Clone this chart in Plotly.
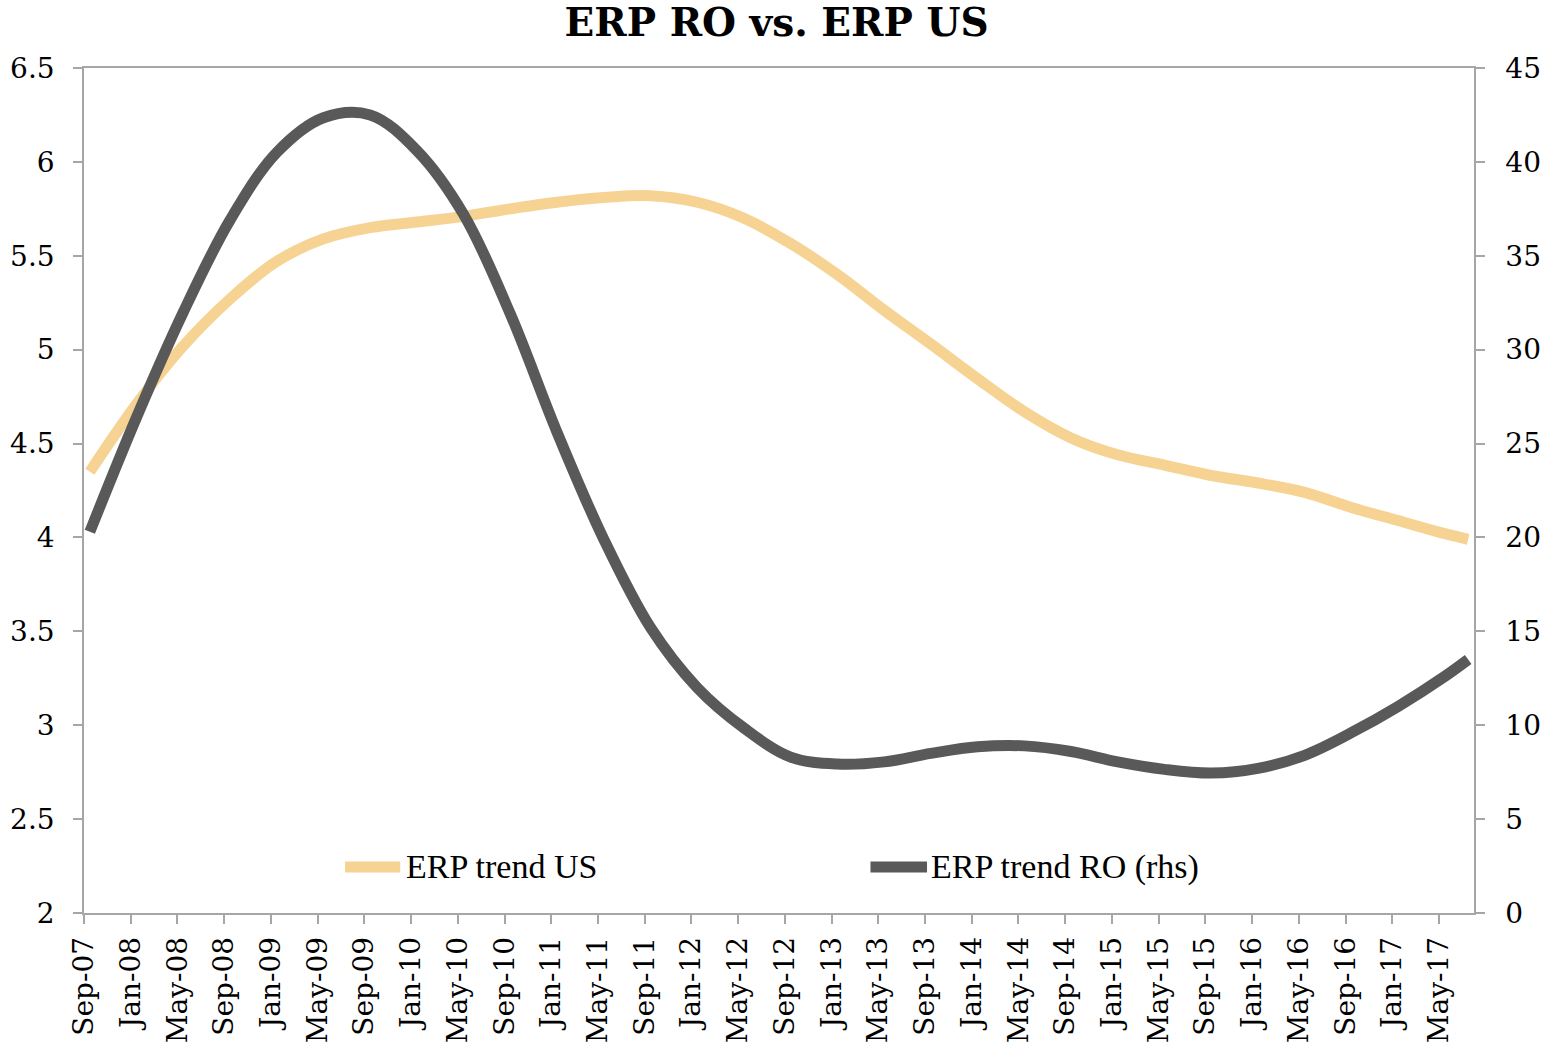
import plotly.graph_objects as go

# Month labels shown on the x axis (every fourth month, Sep-07 .. May-17)
tick_labels = [
    "Sep-07", "Jan-08", "May-08", "Sep-08", "Jan-09", "May-09", "Sep-09", "Jan-10",
    "May-10", "Sep-10", "Jan-11", "May-11", "Sep-11", "Jan-12", "May-12", "Sep-12",
    "Jan-13", "May-13", "Sep-13", "Jan-14", "May-14", "Sep-14", "Jan-15", "May-15",
    "Sep-15", "Jan-16", "May-16", "Sep-16", "Jan-17", "May-17",
]

# Observation months (months elapsed since Sep-07)
obs_month = [0, 4, 8, 12, 16, 20, 24, 28, 32, 36, 40, 44, 48, 52, 56, 60,
             64, 68, 72, 76, 80, 84, 88, 92, 96, 100, 104, 108, 112, 116, 118]

# Equity risk premium trend, US (left axis, %)
erp_us = [4.35, 4.71, 5.02, 5.27, 5.47, 5.59, 5.65, 5.68, 5.71, 5.75, 5.785,
          5.81, 5.82, 5.785, 5.70, 5.565, 5.40, 5.21, 5.03, 4.845, 4.67, 4.53,
          4.44, 4.385, 4.33, 4.29, 4.24, 4.16, 4.09, 4.02, 3.99]

# Equity risk premium trend, Romania (right axis, %)
erp_ro = [20.3, 26.4, 32.0, 36.9, 40.5, 42.35, 42.5, 40.6, 37.2, 31.9, 25.6,
          19.9, 15.2, 12.0, 9.85, 8.3, 7.93, 8.05, 8.5, 8.85, 8.9, 8.6,
          8.05, 7.65, 7.45, 7.7, 8.4, 9.6, 11.0, 12.6, 13.5]

series_names = ["ERP trend US", "ERP trend RO (rhs)"]
series_colors = ["#F6D392", "#595959"]

# each monthly value sits in the middle of its month slot
x_pos = [m + 0.5 for m in obs_month]
tick_pos = list(range(0, 4 * len(tick_labels), 4))

AXIS_GREY = "#A6A6A6"
TICK_FONT = dict(family="DejaVu Serif", size=28, color="#000000")

fig = go.Figure()
fig.add_trace(go.Scatter(
    x=x_pos, y=erp_us, name=series_names[0], mode="lines",
    line=dict(color=series_colors[0], width=11, shape="spline", smoothing=1.0),
    yaxis="y", showlegend=False,
))
fig.add_trace(go.Scatter(
    x=x_pos, y=erp_ro, name=series_names[1], mode="lines",
    line=dict(color=series_colors[1], width=11, shape="spline", smoothing=1.0),
    yaxis="y2", showlegend=False,
))

# legend drawn inside the plot area, along the bottom
legend_y = 0.0545
legend_items = [(0.1878, 0.2275, 0.2300), (0.5658, 0.6065, 0.6080)]
for (x0, x1, xt), name, color in zip(legend_items, series_names, series_colors):
    fig.add_shape(type="line", xref="paper", yref="paper",
                  x0=x0, x1=x1, y0=legend_y, y1=legend_y,
                  line=dict(color=color, width=11))
    fig.add_annotation(xref="paper", yref="paper", x=xt, y=legend_y,
                       text=name, showarrow=False, xanchor="left", yanchor="middle",
                       font=dict(family="Liberation Serif", size=34, color="#000000"))

fig.update_layout(
    width=1547, height=1043,
    margin=dict(l=84, r=73, t=68, b=130, autoexpand=False),
    paper_bgcolor="white", plot_bgcolor="white",
    title=dict(text="<b>ERP RO vs. ERP US</b>", x=0.502, xref="container",
               y=1 - 22 / 1043, yref="container", xanchor="center", yanchor="middle",
               font=dict(family="DejaVu Serif", size=39, color="#000000")),
    xaxis=dict(range=[0, 119], tickmode="array", tickvals=tick_pos, ticktext=tick_labels,
               tickangle=-90, ticks="outside", ticklen=9, tickwidth=1.5, tickcolor=AXIS_GREY,
               showline=True, linecolor=AXIS_GREY, linewidth=1.5, mirror=True,
               showgrid=False, zeroline=False, tickfont=TICK_FONT, ticklabelstandoff=2,
               automargin=False),
    yaxis=dict(range=[2, 6.5], dtick=0.5, tick0=2, ticks="outside", ticklen=9,
               tickwidth=1.5, tickcolor=AXIS_GREY, showline=True, linecolor=AXIS_GREY,
               linewidth=1.5, showgrid=False, zeroline=False, tickfont=TICK_FONT,
               ticklabelstandoff=13, automargin=False),
    yaxis2=dict(range=[0, 45], dtick=5, tick0=0, overlaying="y", side="right",
                ticks="outside", ticklen=9, tickwidth=1.5, tickcolor=AXIS_GREY,
                showline=True, linecolor=AXIS_GREY, linewidth=1.5, showgrid=False,
                zeroline=False, tickfont=TICK_FONT, ticklabelstandoff=15,
                automargin=False),
)

fig.write_html("out.html")
